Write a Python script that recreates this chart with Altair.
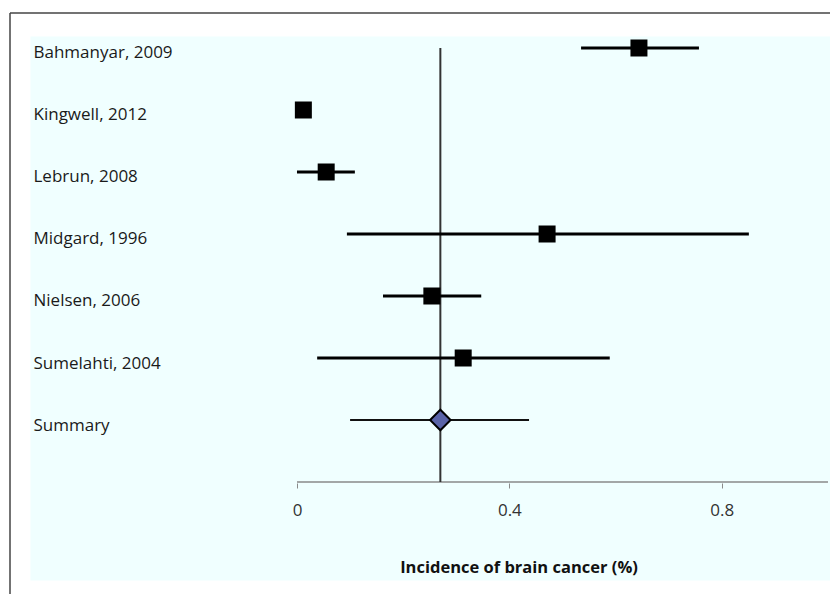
import altair as alt
import pandas as pd

# ---- data ----
studies = ["Bahmanyar, 2009", "Kingwell, 2012", "Lebrun, 2008", "Midgard, 1996",
           "Nielsen, 2006", "Sumelahti, 2004"]
estimates = [0.644, 0.012, 0.055, 0.471, 0.254, 0.313]
lower = [0.535, 0.008, 0.000, 0.094, 0.162, 0.038]
upper = [0.757, 0.016, 0.109, 0.851, 0.347, 0.589]

summary_label = "Summary"
summary_est = 0.27
summary_lower = 0.100
summary_upper = 0.437

x_ticks = [0, 0.4, 0.8]
x_max = 1.0
x_title = "Incidence of brain cancer (%)"

row_labels = studies + [summary_label]
rows = list(range(1, len(row_labels) + 1))
axis_row = len(row_labels) + 1

study_df = pd.DataFrame({"study": studies, "row": rows[:len(studies)],
                         "est": estimates, "lo": lower, "hi": upper})
summary_df = pd.DataFrame({"study": [summary_label], "row": [rows[-1]],
                           "est": [summary_est], "lo": [summary_lower], "hi": [summary_upper]})
vline_df = pd.DataFrame({"lo": [summary_est], "row": [1], "row2": [axis_row]})
axis_df = pd.DataFrame({"lo": [0.0], "hi": [x_max], "row": [axis_row]})
frame_df = pd.DataFrame({"a": [0]})

FONT = "Open Sans"

x_scale = alt.Scale(domain=[-0.5028, 1.0038], nice=False, zero=False)
y_scale = alt.Scale(domain=[0.8065, 9.5806], reverse=True, nice=False, zero=False)

label_array = "[" + ",".join("'" + s + "'" for s in row_labels) + "]"

x_axis = alt.Axis(values=x_ticks, format="~g", orient="bottom", offset=-97,
                  domain=False, grid=False, ticks=True, tickSize=5, tickColor="#8a8a8a",
                  tickWidth=1, labelFont=FONT, labelFontSize=17, labelColor="#333333",
                  labelBaseline="middle", labelPadding=22,
                  title=x_title, titleFont=FONT, titleFontWeight="bold", titleFontSize=16.5,
                  titleColor="#111111", titleX=488.5, titleY=84, titleAlign="center",
                  titleBaseline="middle")
y_axis = alt.Axis(values=rows, labelExpr=label_array + "[datum.value - 1]", orient="left",
                  domain=False, ticks=False, grid=False, labelAlign="left",
                  labelBaseline="middle", labelPadding=-3, labelOffset=5,
                  labelFont=FONT, labelFontSize=17, labelColor="#1a1a1a", title="")

X = lambda f: alt.X(f, scale=x_scale, axis=x_axis)
Y = lambda f: alt.Y(f, scale=y_scale, axis=y_axis)

# outer frame (only top and left edges fall inside the picture)
frame_top = alt.Chart(frame_df).mark_rule(color="#444444", strokeWidth=1.5).encode(
    x=alt.value(-20), x2=alt.value(820), y=alt.value(-23))
frame_left = alt.Chart(frame_df).mark_rule(color="#444444", strokeWidth=1.5).encode(
    x=alt.value(-20), y=alt.value(-23), y2=alt.value(570))

vline = alt.Chart(vline_df).mark_rule(color="#333333", strokeWidth=2).encode(
    x=X("lo:Q"), y=Y("row:Q"), y2="row2:Q")

axis_line = alt.Chart(axis_df).mark_rule(color="#8a8a8a", strokeWidth=1.5).encode(
    x=X("lo:Q"), x2="hi:Q", y=Y("row:Q"))

ci = alt.Chart(study_df).mark_rule(color="#000000", strokeWidth=3).encode(
    x=X("lo:Q"), x2="hi:Q", y=Y("row:Q"))

squares = alt.Chart(study_df).mark_square(size=289, color="#000000", opacity=1).encode(
    x=X("est:Q"), y=Y("row:Q"))

sum_ci = alt.Chart(summary_df).mark_rule(color="#111111", strokeWidth=2).encode(
    x=X("lo:Q"), x2="hi:Q", y=Y("row:Q"))

diamond = alt.Chart(summary_df).mark_point(shape="diamond", filled=True, fill="#5a64a8",
                                           stroke="#000000", strokeWidth=2, size=420,
                                           opacity=1).encode(
    x=X("est:Q"), y=Y("row:Q"))

chart = alt.layer(frame_top, frame_left, axis_line, vline, ci, squares, sum_ci, diamond).properties(
    width=800, height=544,
    padding={"left": 22, "top": 28, "right": 0, "bottom": 14},
    autosize=alt.AutoSizeParams(type="none"),
    background="white",
).configure_view(fill="#F0FFFF", stroke="transparent")

chart.save("out.html", embed_options={"renderer": "svg", "actions": False})
